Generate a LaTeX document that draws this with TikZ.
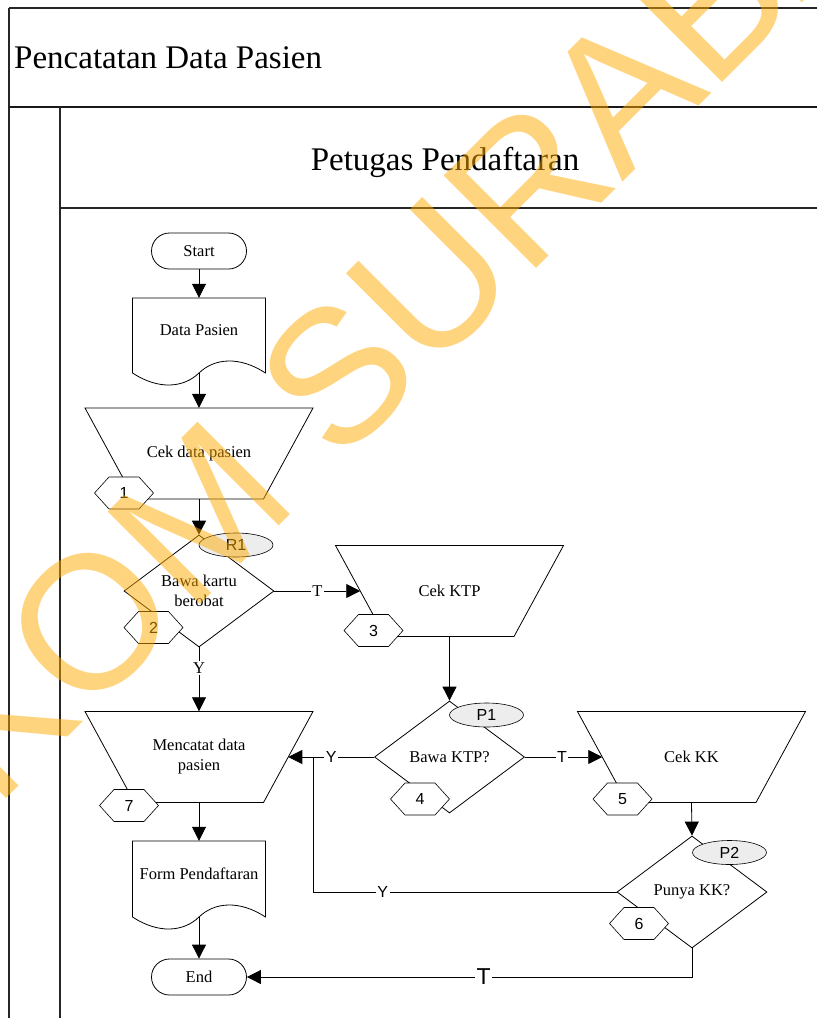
\documentclass[tikz,border=0pt]{standalone}
\usepackage{fontspec}
\setmainfont{Liberation Serif}
\newfontfamily\labelsans{Liberation Sans}
\usetikzlibrary{arrows.meta,shapes.geometric,calc}

\definecolor{wmorange}{RGB}{255,170,0}

\tikzset{
  shapeline/.style={draw=black, line width=0.8pt},
  flowtext/.style={font=\fontsize{16.5}{20}\selectfont, align=center},
  sanstext/.style={font=\labelsans\fontsize{16}{16}\selectfont},
  terminal/.style={shapeline, fill=white, rounded corners=18pt, minimum width=95pt, minimum height=36pt, inner sep=0pt, flowtext},
  decision/.style={shapeline, fill=white, diamond, minimum width=150pt, minimum height=112pt, inner sep=0pt, flowtext},
  refoval/.style={shapeline, line width=0.6pt, ellipse, fill=black!7, minimum width=74pt, minimum height=24pt, inner sep=0pt, sanstext},
  boxtext/.style={inner sep=0pt, flowtext},
  flow/.style={line width=0.8pt, -{Triangle[width=14pt,length=14pt]}},
  plainflow/.style={line width=0.8pt},
  serifmark/.style={fill=white, inner sep=1.5pt, flowtext},
  sansmark/.style={fill=white, inner sep=1.5pt, sanstext},
  lane/.style={line width=1.2pt, draw=black!85},
}

% manual operation box: wide top, narrow bottom
\newcommand{\trapbox}[4]{%
  \draw[shapeline, fill=white] (#2-114,#3-45.5) -- (#2+114,#3-45.5) -- (#2+64.5,#3+45.5) -- (#2-64.5,#3+45.5) -- cycle;
  \node[boxtext, minimum width=129pt, minimum height=91pt] (#1) at (#2,#3) {#4};
  \coordinate (#1-l) at (#2-89.25,#3);
  \coordinate (#1-r) at (#2+89.25,#3);
}

% document box with a wavy lower edge
\newcommand{\docbox}[5]{%
  \draw[shapeline, fill=white] (#2-66.5,#3) -- (#2+66.5,#3) -- (#2+66.5,#4)
    .. controls (#2+40.5,#4-17) and (#2+15.5,#4-15) .. (#2,#4)
    .. controls (#2-15.5,#4+15) and (#2-40.5,#4+17) .. (#2-66.5,#4) -- cycle;
  \node[boxtext, minimum width=133pt, minimum height=#4-10-#3] (#1) at (#2,{(#3+#4-10)/2}) {#5};
  \coordinate (#1-b) at (#2,#4);
}

% numbered hexagon tag
\newcommand{\hexmark}[4]{%
  \draw[shapeline, line width=0.6pt, fill=white] (#2-29.5,#3) -- (#2-15,#3-16) -- (#2+15,#3-16) -- (#2+29.5,#3) -- (#2+15,#3+16) -- (#2-15,#3+16) -- cycle;
  \node[inner sep=0pt, sanstext] (#1) at (#2,#3) {#4};
}

\begin{document}
\begin{tikzpicture}[x=1pt,y=-1pt]
\useasboundingbox (0,0) rectangle (817,1018);
\clip (0,0) rectangle (817,1018);
\fill[white] (0,0) rectangle (817,1018);

% pool and lane frame
\draw[lane] (9,8) -- (830,8);
\draw[lane] (9,8) -- (9,1030);
\draw[line width=2.2pt, black!90] (9,107) -- (830,107);
\draw[lane] (60,107) -- (60,1030);
\draw[lane] (60,208) -- (830,208);

\node[anchor=base west, inner sep=0pt, font=\fontsize{33}{40}\selectfont] (pooltitle) at (14,68) {Pencatatan Data Pasien};
\node[anchor=base, inner sep=0pt, font=\fontsize{33}{40}\selectfont] (lanetitle) at (445,170) {Petugas Pendaftaran};

% flow shapes
\node[terminal] (start) at (199,251) {Start};
\docbox{dp}{199}{298}{373}{Data Pasien}
\trapbox{cdp}{199}{453.5}{Cek data pasien}
\node[decision] (d1) at (199,591) {Bawa kartu\\berobat};
\trapbox{ck}{449.5}{591}{Cek KTP}
\node[decision] (d2) at (449.5,757) {Bawa KTP?};
\trapbox{mc}{199}{757}{Mencatat data\\pasien}
\trapbox{kk}{691.5}{757}{Cek KK}
\node[decision] (d3) at (692,892) {Punya KK?};
\docbox{fp}{199}{841}{917}{Form Pendaftaran}
\node[terminal] (end) at (199,977) {End};

% connectors
\draw[flow] (start.south) -- (dp.north);
\draw[flow] (dp-b) -- (cdp.north);
\draw[flow] (cdp.south) -- (d1.north);
\draw[flow] (d1.east) -- node[serifmark, pos=0.5] {T} (ck-l);
\draw[flow] (d1.south) -- node[serifmark, pos=0.32] {Y} (mc.north);
\draw[flow] (ck.south) -- (d2.north);
\draw[flow] (d2.west) -- node[sansmark, pos=0.5] {Y} (mc-r);
\draw[flow] (d2.east) -- node[sansmark, pos=0.48] {T} (kk-l);
\draw[flow] (kk.south) -- (d3.north);
\coordinate (ybend) at (313,892);
\draw[plainflow] (d3.west) -- node[sansmark, pos=0.77] {Y} (ybend) -- (ybend |- mc-r);
\draw[flow] (mc.south) -- (fp.north);
\draw[flow] (fp-b) -- (end.north);
\draw[flow] (d3.south) |- node[sansmark, pos=0.734, font=\labelsans\fontsize{23}{23}\selectfont] {T} (end.east);

% reference ovals
\node[refoval] (r1) at (236,545) {R1};
\node[refoval] (p1) at (486.5,715) {P1};
\node[refoval] (p2) at (729.5,852.5) {P2};

% step tags
\hexmark{h1}{124}{493}{1}
\hexmark{h2}{153.5}{627.5}{2}
\hexmark{h3}{373.5}{630.5}{3}
\hexmark{h4}{420}{799}{4}
\hexmark{h5}{622.5}{799}{5}
\hexmark{h6}{639}{923.5}{6}
\hexmark{h7}{129}{805.5}{7}

% watermark
\node[rotate=45, anchor=base west, inner sep=0pt, text=wmorange, opacity=0.5,
      font=\labelsans\fontsize{190}{190}\selectfont] (wm) at (-214,1019) {STIKOM SURABAYA};
\end{tikzpicture}
\end{document}
